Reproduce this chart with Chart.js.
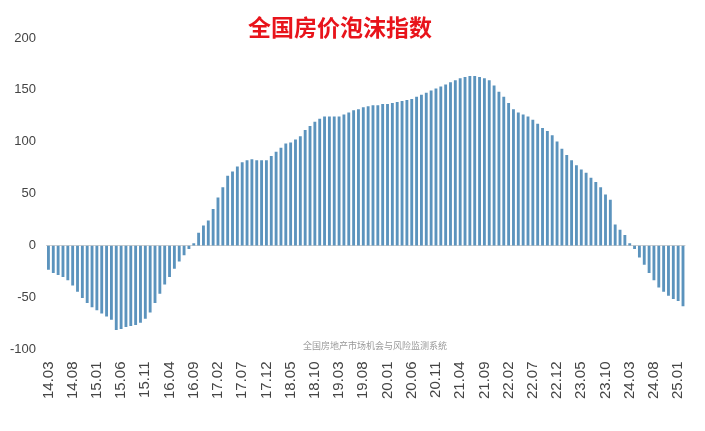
<!DOCTYPE html>
<html><head><meta charset="utf-8">
<script src="https://cdn.jsdelivr.net/npm/chart.js@4/dist/chart.umd.min.js"></script>
<style>html,body{margin:0;padding:0;background:#fff}#w{position:relative;width:705px;height:431px}</style>
</head><body><div id="w"><canvas id="c" width="705" height="431"></canvas></div>
<script>
const title = "全国房价泡沫指数";
const sourceNote = "全国房地产市场机会与风险监测系统";
const startYear = 2014, startMonth = 3;
const values = [
-23,-26,-28,-30,-33,-38,-44,-50,-55,-59,-62,-65,-68,-71,-81,-80,-78,-77,-76,-74,-70,-64,-55,-46,-37,-30,-22,-15,-9,-3,
2,12,19,24,35,46,56,67,71,76,80,82,83,82,82,82,86,90,94,98,99,102,105,111,115,119,122,124,124,124,124,126,128,130,131,133,134,135,135,136,136,137,138,139,140,141,143,145,147,149,151,153,
155,157,159,161,162,163,163,162,161,159,154,148,143,137,131,128,126,124,121,117,113,110,106,100,93,87,82,77,73,70,65,61,56,49,44,20,15,10,2,
-3,-11,-18,-26,-33,-40,-44,-48,-51,-53,-58
];
const labels = values.map((v,i)=>{const m=startMonth-1+i;const y=startYear+Math.floor(m/12);const mm=m%12+1;return String(y%100).padStart(2,'0')+'.'+String(mm).padStart(2,'0');});
const yTicks = [-100,-50,0,50,100,150,200];
const extra = {id:'extra',afterDraw(ch){const c=ch.ctx;c.save();
c.fillStyle='#e8141b';c.font='bold 23px "Noto Sans CJK SC"';c.textAlign='center';c.textBaseline='middle';c.fillText(title,340,27);
c.fillStyle='#999';c.font='9px "Noto Sans CJK SC"';c.fillText(sourceNote,375,346);
c.restore();}};
new Chart(document.getElementById('c'),{type:'bar',
data:{labels,datasets:[{data:values,backgroundColor:'#5b93bd',barThickness:2.2}]},
options:{responsive:false,animation:false,
layout:{padding:{left:0,right:0,top:38,bottom:28}},
plugins:{legend:{display:false},tooltip:{enabled:false}},
scales:{
x:{grid:{display:false},border:{display:false},
ticks:{autoSkip:false,maxRotation:90,minRotation:90,color:'#444',font:{size:15,family:'"Liberation Sans"'},padding:4,
callback:(v,i)=>i%5===0?labels[i]:''}},
y:{min:-100,max:200,afterBuildTicks:a=>{a.ticks=yTicks.map(v=>({value:v}));},
grid:{drawTicks:false,color:ctx=>ctx.tick&&ctx.tick.value===0?'#d0d0d0':'rgba(0,0,0,0)'},border:{display:false},
ticks:{color:'#444',font:{size:13,family:'"Liberation Sans"'},padding:10}}
}},plugins:[extra]});
</script></body></html>
